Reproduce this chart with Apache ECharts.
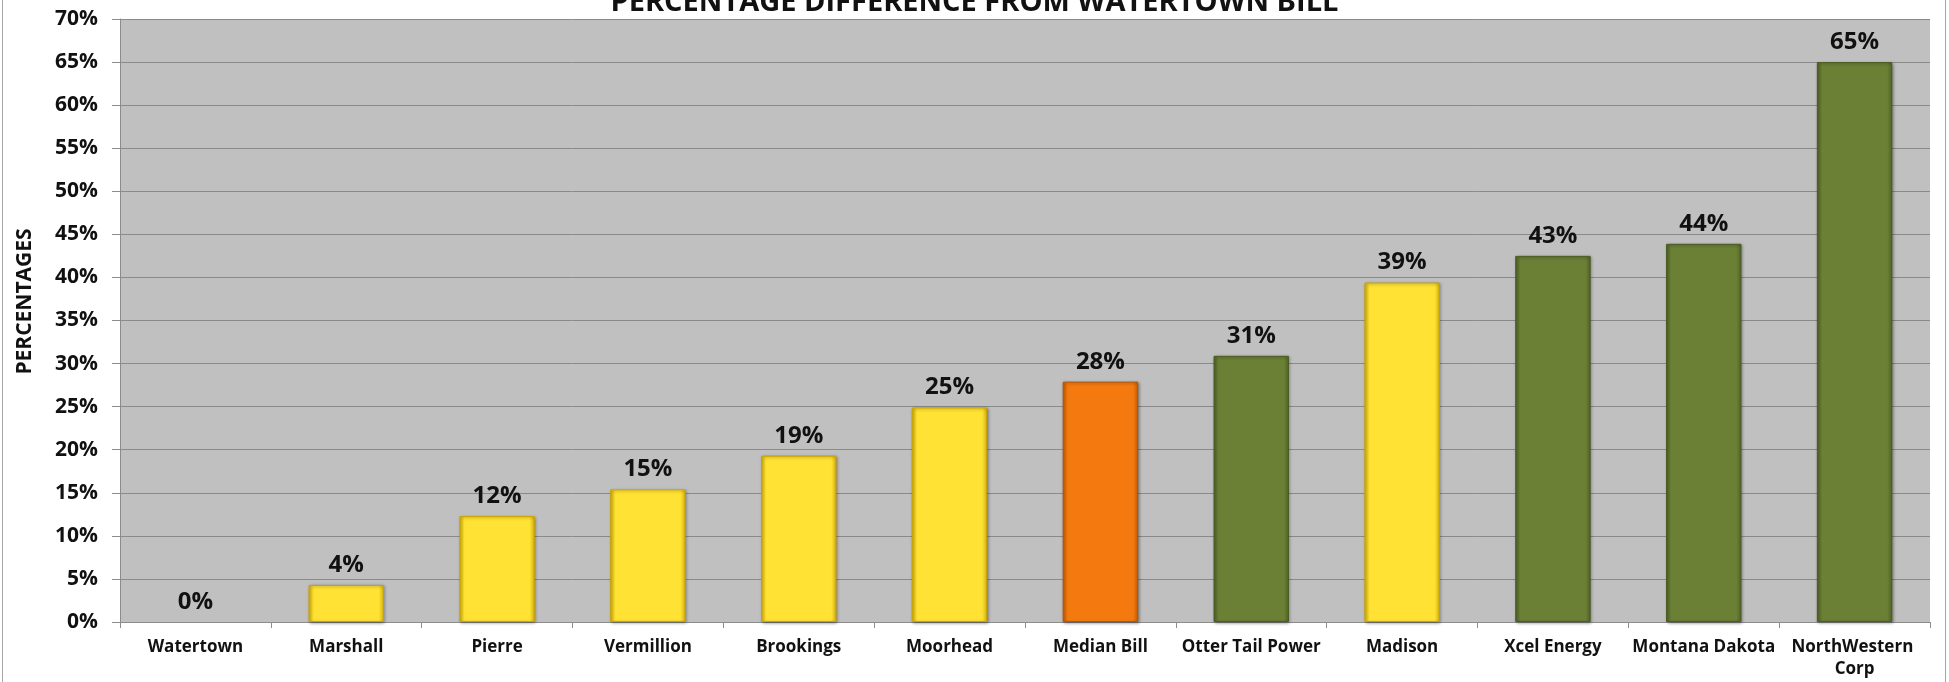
<!DOCTYPE html>
<html><head><meta charset="utf-8">
<script src="https://cdn.jsdelivr.net/npm/echarts@6/dist/echarts.min.js"></script>
<style>html,body{margin:0;padding:0;background:#fff}#c{width:1949px;height:682px}</style>
</head><body><div id="c"></div>
<script>
const categories = ['Watertown','Marshall','Pierre','Vermillion','Brookings','Moorhead','Median Bill','Otter Tail Power','Madison','Xcel Energy','Montana Dakota','NorthWestern Corp'];
const values = [0, 4.3, 12.3, 15.4, 19.3, 24.9, 27.9, 30.9, 39.4, 42.5, 43.9, 65.0];
const groups = ['city','city','city','city','city','city','median','utility','city','utility','utility','utility'];
const yMin = 0, yMax = 70, yStep = 5;
const titleText = 'PERCENTAGE DIFFERENCE FROM WATERTOWN BILL';
const yName = 'PERCENTAGES';

const palette = {
  city:    {edge:'#D8B40A', main:'#FFE233', border:'#C9A400'},
  median:  {edge:'#CC5E00', main:'#F47A10', border:'#B85400'},
  utility: {edge:'#526628', main:'#6B7F35', border:'#4A5C22'}
};
function fill(g){
  const p = palette[g];
  return new echarts.graphic.LinearGradient(0,0,1,0,[
    {offset:0,color:p.edge},{offset:0.07,color:p.main},
    {offset:0.93,color:p.main},{offset:1,color:p.edge}]);
}
const FONT = '"Open Sans"';
const chart = echarts.init(document.getElementById('c'), null, {renderer:'canvas'});
chart.setOption({
  animation:false,
  backgroundColor:'#fff',
  title:{text:titleText,left:'center',top:-17,
    textStyle:{fontFamily:FONT,fontWeight:'bold',fontSize:29,color:'#111'}},
  graphic:[{type:'rect',shape:{x:2.5,y:-10,width:1943,height:710},
    style:{fill:'none',stroke:'#A6A6A6',lineWidth:1},silent:true,z:-1}],
  grid:{left:120,right:19,top:19,bottom:60,show:true,backgroundColor:'#C0C0C0',borderWidth:0},
  xAxis:{type:'category',data:categories,
    axisLine:{lineStyle:{color:'#8C8C8C',width:1}},
    axisTick:{show:true,alignWithLabel:false,length:6,lineStyle:{color:'#8C8C8C'}},
    axisLabel:{interval:0,margin:14,fontFamily:FONT,fontWeight:'bold',fontSize:17,color:'#111',
      width:146,overflow:'break',lineHeight:22}},
  yAxis:{type:'value',min:yMin,max:yMax,interval:yStep,
    name:yName,nameLocation:'middle',nameGap:84,
    nameTextStyle:{fontFamily:FONT,fontWeight:'bold',fontSize:21,color:'#111',padding:[0,0,0,38]},
    axisLine:{show:true,lineStyle:{color:'#8C8C8C'}},
    axisTick:{show:true,length:8,lineStyle:{color:'#8C8C8C'}},
    splitLine:{show:true,lineStyle:{color:'#8A8A8A',width:1}},
    axisLabel:{formatter:'{value}%',margin:22,fontFamily:FONT,fontWeight:'bold',fontSize:21,color:'#111'}},
  series:[{type:'bar',barWidth:'50%',
    data:values.map((v,i)=>({value:v,itemStyle:v>0?{color:fill(groups[i]),
      borderColor:palette[groups[i]].border,borderWidth:1,
      shadowColor:'rgba(0,0,0,0.35)',shadowBlur:3,shadowOffsetX:1,shadowOffsetY:1}
      :{color:'rgba(0,0,0,0)',borderWidth:0}})),
    label:{show:true,position:'top',distance:8,formatter:p=>Math.round(p.value)+'%',
      fontFamily:FONT,fontWeight:'bold',fontSize:24,color:'#111'}}]
});
</script></body></html>
